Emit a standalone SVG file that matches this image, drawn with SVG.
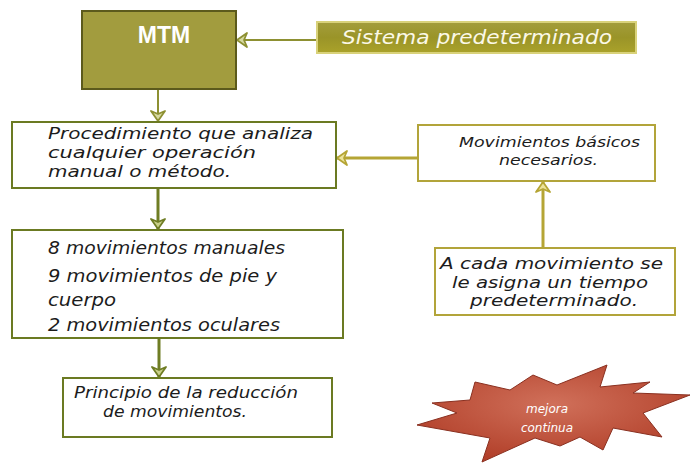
<svg xmlns="http://www.w3.org/2000/svg" width="691" height="464" viewBox="0 0 691 464">
<style>
.box{fill:#ffffff;stroke:#6b7a22;stroke-width:2}
.rbox{fill:#ffffff;stroke:#b2a43a;stroke-width:2}
.t{font-family:"DejaVu Sans","Liberation Sans",sans-serif;font-style:italic;fill:#1c1c1c}
.cg{stroke:#6f7d24;stroke-width:3;fill:none}
.cy{stroke:#b5a535;stroke-width:3;fill:none}
.cm{stroke:#8d9032;stroke-width:2;fill:none}
</style>
<defs>
<linearGradient id="gs" x1="0" y1="0" x2="0" y2="1">
<stop offset="0" stop-color="#a39d3c"/>
<stop offset="0.5" stop-color="#9a9428"/>
<stop offset="1" stop-color="#aaa22a"/>
</linearGradient>
<radialGradient id="gstar" cx="0.5" cy="0.4" r="0.6">
<stop offset="0" stop-color="#d0705a"/>
<stop offset="1" stop-color="#b2402a"/>
</radialGradient>
<marker id="ag" viewBox="0 0 12 16" refX="11" refY="8" markerWidth="12" markerHeight="16" markerUnits="userSpaceOnUse" orient="auto">
<path d="M1,1 L11,8 L1,15 L4,8 Z" fill="#c9d08a" stroke="#6f7d24" stroke-width="1.8" stroke-linejoin="round"/>
</marker>
<marker id="ay" viewBox="0 0 12 16" refX="11" refY="8" markerWidth="12" markerHeight="16" markerUnits="userSpaceOnUse" orient="auto">
<path d="M1,1 L11,8 L1,15 L4,8 Z" fill="#ece39a" stroke="#b5a535" stroke-width="1.8" stroke-linejoin="round"/>
</marker>
<marker id="am" viewBox="0 0 12 16" refX="11" refY="8" markerWidth="12" markerHeight="16" markerUnits="userSpaceOnUse" orient="auto">
<path d="M1,1 L11,8 L1,15 L4,8 Z" fill="#d6d9a0" stroke="#8d9032" stroke-width="1.8" stroke-linejoin="round"/>
</marker>
</defs>
<rect width="691" height="464" fill="#ffffff"/>

<g id="connectors">
<line class="cm" x1="317" y1="40" x2="237" y2="40" marker-end="url(#am)"/>
<line class="cm" x1="158" y1="72" x2="158" y2="121" marker-end="url(#am)"/>
<line class="cg" x1="158" y1="188" x2="158" y2="229" marker-end="url(#ag)"/>
<line class="cg" x1="159" y1="338" x2="159" y2="377" marker-end="url(#ag)"/>
<line class="cy" x1="418" y1="158" x2="337" y2="158" marker-end="url(#ay)"/>
<line class="cy" x1="543" y1="248" x2="543" y2="182" marker-end="url(#ay)"/>
</g>

<g id="mtm">
<rect x="82" y="11" width="154" height="78" fill="#a29c3e" stroke="#5c5a1c" stroke-width="2"/>
<text x="164" y="43" text-anchor="middle" font-family="'Liberation Sans',sans-serif" font-weight="bold" font-size="23" fill="#ffffff">MTM</text>
</g>

<g id="sistema">
<rect x="317" y="22" width="319" height="31" fill="url(#gs)" stroke="#d9d27a" stroke-width="2"/>
<text class="t" x="342" y="44" font-size="20" textLength="270" lengthAdjust="spacingAndGlyphs" style="fill:#fbf8e6">Sistema predeterminado</text>
</g>

<g id="procedimiento">
<rect class="box" x="12" y="122" width="324" height="66"/>
<text class="t" font-size="16" lengthAdjust="spacingAndGlyphs"><tspan x="48" y="139" textLength="265" lengthAdjust="spacingAndGlyphs">Procedimiento que analiza</tspan><tspan x="48" y="158" textLength="208" lengthAdjust="spacingAndGlyphs">cualquier operación</tspan><tspan x="48" y="177" textLength="183" lengthAdjust="spacingAndGlyphs">manual o método.</tspan></text>
</g>

<g id="movimientos">
<rect class="box" x="12" y="230" width="331" height="108"/>
<text class="t" font-size="17"><tspan x="48" y="254" textLength="237" lengthAdjust="spacingAndGlyphs">8 movimientos manuales</tspan><tspan x="48" y="282" textLength="229" lengthAdjust="spacingAndGlyphs">9 movimientos de pie y</tspan><tspan x="48" y="306" textLength="68" lengthAdjust="spacingAndGlyphs">cuerpo</tspan><tspan x="48" y="331" textLength="232" lengthAdjust="spacingAndGlyphs">2 movimientos oculares</tspan></text>
</g>

<g id="principio">
<rect class="box" x="63" y="378" width="269" height="59"/>
<text class="t" font-size="16"><tspan x="74" y="398" textLength="224" lengthAdjust="spacingAndGlyphs">Principio de la reducción</tspan><tspan x="103" y="417" textLength="144" lengthAdjust="spacingAndGlyphs">de movimientos.</tspan></text>
</g>

<g id="basicos">
<rect class="rbox" x="418" y="125" width="237" height="56"/>
<text class="t" font-size="14"><tspan x="459" y="147" textLength="181" lengthAdjust="spacingAndGlyphs">Movimientos básicos</tspan><tspan x="499" y="165" textLength="99" lengthAdjust="spacingAndGlyphs">necesarios.</tspan></text>
</g>

<g id="asigna">
<rect class="rbox" x="435" y="248" width="240" height="67"/>
<text class="t" font-size="15.5"><tspan x="440" y="269" textLength="223" lengthAdjust="spacingAndGlyphs">A cada movimiento se</tspan><tspan x="452" y="287.5" textLength="196" lengthAdjust="spacingAndGlyphs">le asigna un tiempo</tspan><tspan x="470" y="306" textLength="168" lengthAdjust="spacingAndGlyphs">predeterminado.</tspan></text>
</g>

<g id="mejora">
<polygon points="475,382 510,390 533,375 557,385 607,365 600,387 650,382 633,393 690,395 643,413 662,437 613,428 603,450 580,437 560,446 535,438 482,462 490,438 417,425 457,413 432,403 470,400" fill="url(#gstar)" stroke="#8a3020" stroke-width="1"/>
<text class="t" x="547" y="413" text-anchor="middle" font-size="12" style="fill:#ffffff">mejora</text>
<text class="t" x="547" y="432" text-anchor="middle" font-size="12" style="fill:#ffffff">continua</text>
</g>
</svg>
